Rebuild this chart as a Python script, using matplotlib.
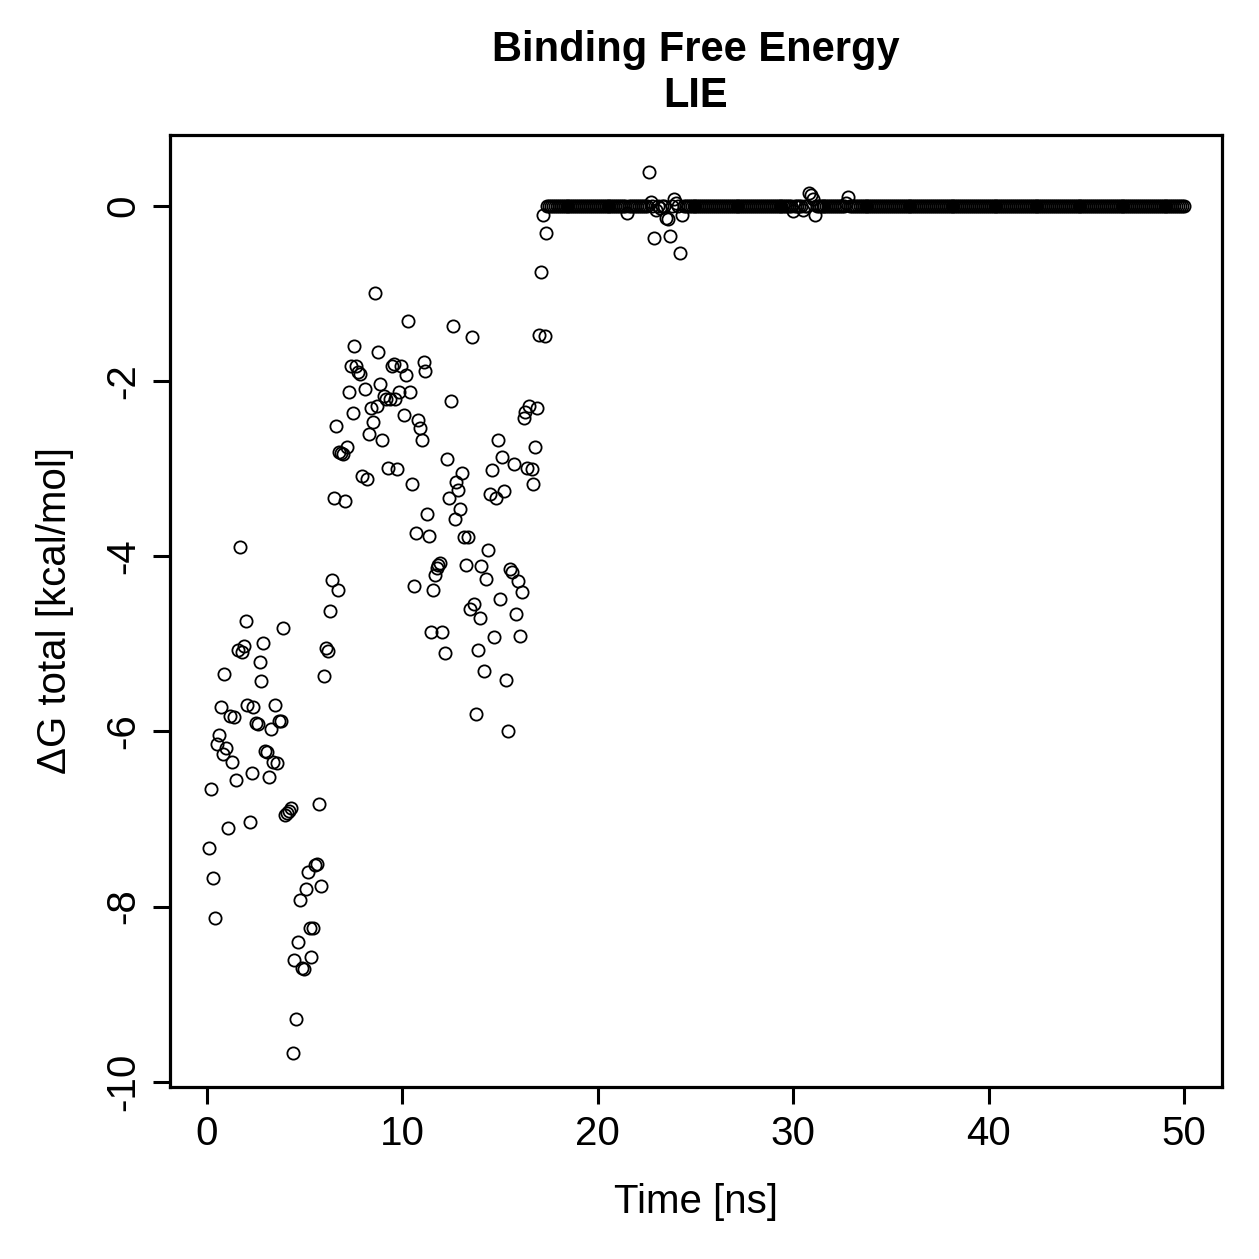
import numpy as np
import matplotlib
matplotlib.use("Agg")
import matplotlib.pyplot as plt

# early, scattered part of the trajectory (time in ns, dG in kcal/mol)
early_time = [0.1, 0.2, 0.3, 0.4, 0.5, 0.6, 0.7, 0.8, 0.9, 1.0, 1.1, 1.2, 1.3, 1.4, 1.5,
              1.6, 1.7, 1.8, 1.9, 2.0, 2.05, 2.2, 2.3, 2.35, 2.5, 2.6, 2.7, 2.75, 2.85, 2.95,
              3.05, 3.2, 3.3, 3.4, 3.5, 3.6, 3.7, 3.8, 3.9, 4.0, 4.1, 4.2, 4.3, 4.4, 4.45,
              4.55, 4.65, 4.75, 4.85, 4.95, 5.05, 5.15, 5.25, 5.35, 5.45, 5.55, 5.65, 5.75, 5.85, 6.0,
              6.1, 6.2, 6.3, 6.4, 6.5, 6.6, 6.7, 6.75, 6.85, 6.95, 7.05, 7.15, 7.25, 7.35, 7.45,
              7.55, 7.65, 7.75, 7.85, 7.95, 8.1, 8.2, 8.3, 8.4, 8.5, 8.6, 8.7, 8.75, 8.85, 8.95,
              9.05, 9.15, 9.25, 9.35, 9.45, 9.55, 9.65, 9.75, 9.85, 9.95, 10.1, 10.2, 10.3, 10.4, 10.5,
              10.6, 10.7, 10.8, 10.9, 11.0, 11.1, 11.15, 11.25, 11.35, 11.45, 11.55, 11.65, 11.75, 11.85, 11.95,
              12.05, 12.2, 12.3, 12.4, 12.5, 12.6, 12.7, 12.75, 12.85, 12.95, 13.05, 13.15, 13.25, 13.35, 13.45,
              13.55, 13.65, 13.75, 13.85, 13.95, 14.05, 14.2, 14.3, 14.4, 14.5, 14.6, 14.7, 14.8, 14.9, 15.0,
              15.1, 15.2, 15.3, 15.4, 15.5, 15.6, 15.7, 15.8, 15.9, 16.0, 16.1, 16.2, 16.3, 16.4, 16.5,
              16.65, 16.7, 16.8, 16.9, 17.0, 17.1, 17.2, 17.3, 17.35]
early_dG = [-7.33, -6.66, -7.67, -8.13, -6.14, -6.04, -5.72, -6.26, -5.34, -6.19, -7.10, -5.82, -6.35, -5.84, -6.55,
            -5.07, -3.90, -5.09, -5.03, -4.74, -5.70, -7.03, -6.48, -5.72, -5.90, -5.91, -5.21, -5.43, -4.99, -6.22,
            -6.23, -6.52, -5.97, -6.35, -5.70, -6.36, -5.88, -5.88, -4.82, -6.95, -6.93, -6.91, -6.88, -9.67, -8.61,
            -9.28, -8.40, -7.92, -8.70, -8.71, -7.80, -7.60, -8.24, -8.57, -8.24, -7.53, -7.51, -6.83, -7.76, -5.37,
            -5.05, -5.08, -4.62, -4.27, -3.34, -2.51, -4.39, -2.81, -2.82, -2.83, -3.37, -2.75, -2.13, -1.83, -2.37,
            -1.60, -1.83, -1.90, -1.92, -3.08, -2.09, -3.12, -2.60, -2.31, -2.47, -0.99, -2.29, -1.67, -2.03, -2.67,
            -2.17, -2.21, -2.99, -2.21, -1.83, -1.80, -2.20, -3.00, -2.12, -1.83, -2.39, -1.93, -1.31, -2.13, -3.17,
            -4.34, -3.74, -2.44, -2.53, -2.67, -1.78, -1.88, -3.52, -3.77, -4.87, -4.38, -4.21, -4.13, -4.10, -4.08,
            -4.87, -5.10, -2.89, -3.33, -2.23, -1.37, -3.58, -3.15, -3.24, -3.46, -3.05, -3.78, -4.10, -3.78, -4.60,
            -1.50, -4.55, -5.80, -5.07, -4.70, -4.11, -5.31, -4.26, -3.93, -3.29, -3.01, -4.92, -3.33, -2.67, -4.49,
            -2.87, -3.25, -5.41, -5.99, -4.14, -4.18, -2.95, -4.66, -4.28, -4.91, -4.41, -2.42, -2.35, -2.99, -2.29,
            -3.00, -3.18, -2.75, -2.31, -1.47, -0.75, -0.10, -1.48, -0.31]

# unbound part: dG is 0 except for a few small excursions
flat_start, flat_end, flat_step = 17.4, 50.0, 0.1
dev_time = [21.5, 22.6, 22.7, 22.9, 23.0, 23.2, 23.5, 23.6, 23.7, 23.9, 24.0, 24.2, 24.3,
            30.0, 30.5, 30.8, 30.9, 31.0, 31.1, 32.7, 32.8]
dev_dG = [-0.08, 0.39, 0.05, -0.37, -0.05, -0.02, -0.14, -0.15, -0.34, 0.08, 0.03, -0.54, -0.10,
          -0.06, -0.05, 0.15, 0.12, 0.08, -0.10, 0.03, 0.10]

flat_time = np.round(np.arange(flat_start, flat_end + flat_step / 2, flat_step), 1)
flat_dG = np.zeros(len(flat_time))
for t, v in zip(dev_time, dev_dG):
    flat_dG[np.argmin(np.abs(flat_time - t))] = v

time = np.concatenate([early_time, flat_time])
dG = np.concatenate([early_dG, flat_dG])

plt.rcParams['font.family'] = ['Liberation Sans', 'DejaVu Sans']

fig = plt.figure(figsize=(12.59, 12.59), dpi=100)
ax = fig.add_axes([0.135, 0.1366, 0.8356, 0.7562])

ax.plot(time, dG, linestyle='none', marker='o', markersize=8.8,
        markerfacecolor='none', markeredgecolor='black', markeredgewidth=1.3)

ax.set_xlim(-1.89, 51.94)
ax.set_ylim(-10.06, 0.81)
ax.set_xticks([0, 10, 20, 30, 40, 50])
ax.set_yticks([-10, -8, -6, -4, -2, 0])
ax.set_yticklabels(['-10', '-8', '-6', '-4', '-2', '0'], rotation=90, va='center')

for s in ax.spines.values():
    s.set_linewidth(2.3)
ax.tick_params(length=12, width=2.2, labelsize=29, pad=8, colors='black')

ax.set_xlabel('Time [ns]', fontsize=29, labelpad=22)
ax.set_ylabel('ΔG total [kcal/mol]', fontsize=29, labelpad=22)
ax.set_title('Binding Free Energy\nLIE', fontsize=30, fontweight='bold', pad=20, linespacing=1.2)

fig.savefig('out.png', dpi=100)
